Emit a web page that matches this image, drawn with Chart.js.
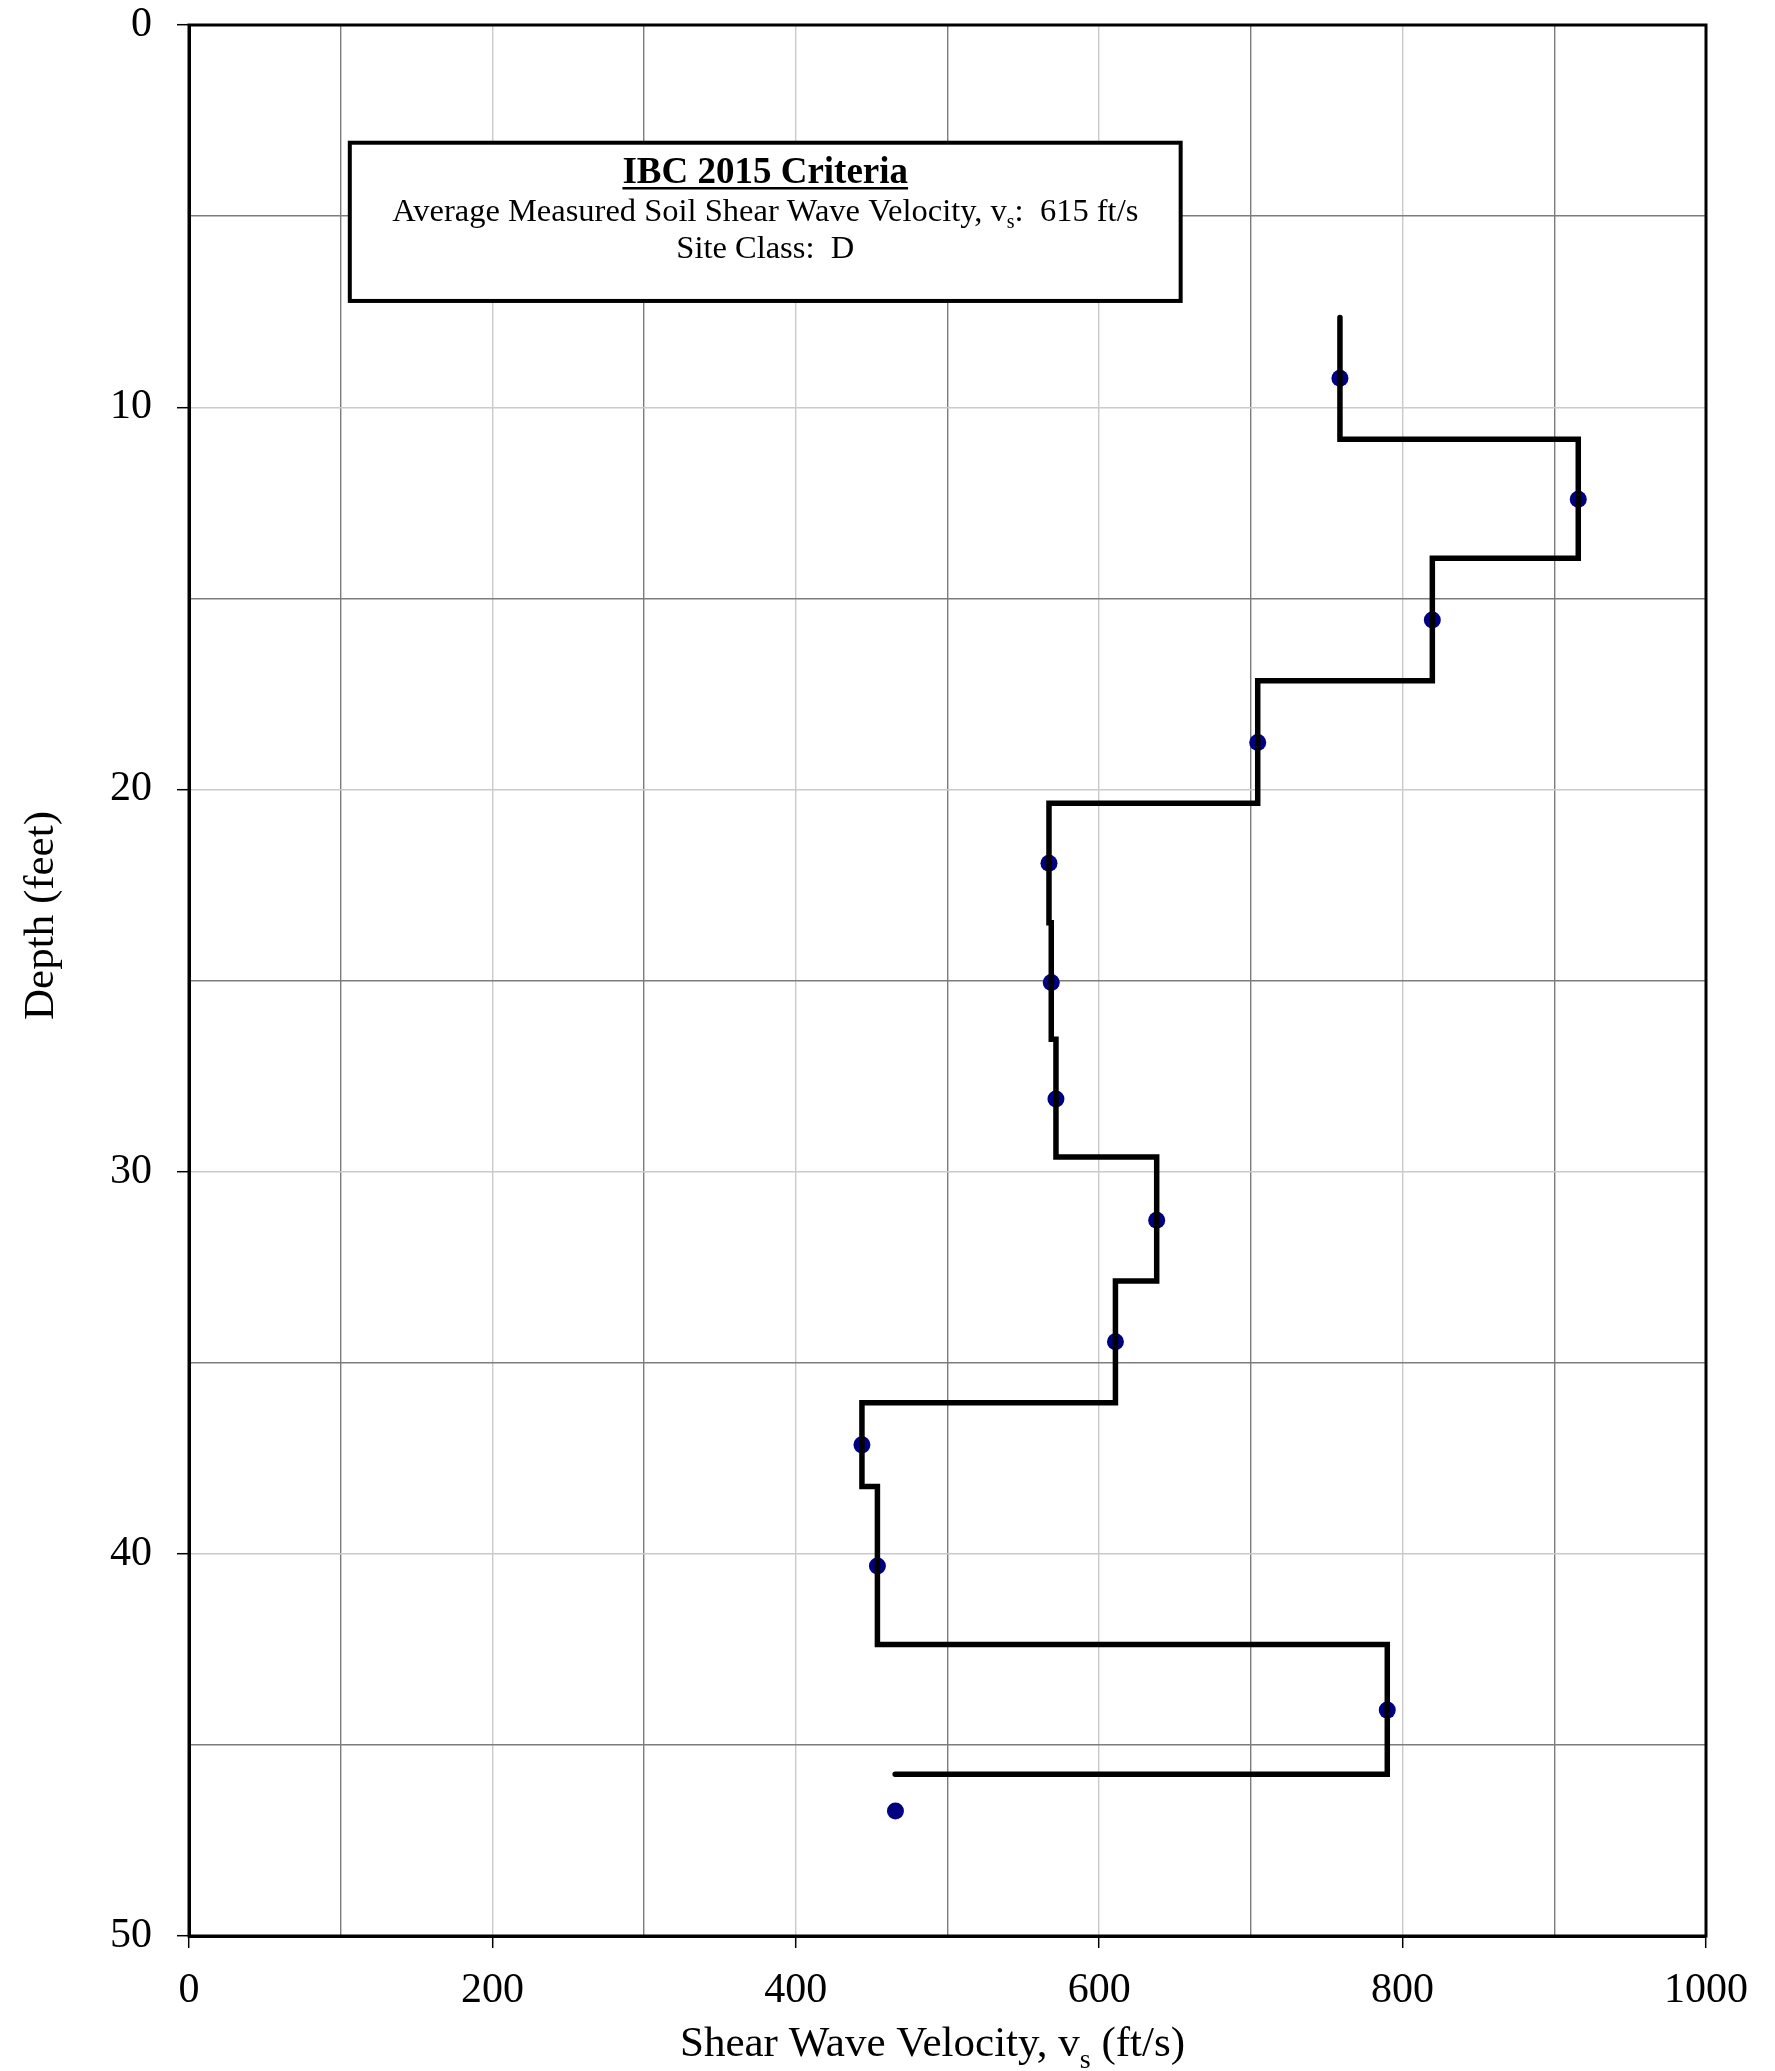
<!DOCTYPE html>
<html lang="en">
<head>
<meta charset="UTF-8" />
<title>Shear Wave Velocity Profile</title>
<script src="https://cdn.jsdelivr.net/npm/chart.js"></script>
<style>
  html, body { margin: 0; padding: 0; background: #fff; }
  #wrap { width: 1775px; height: 2071px; position: relative; }
</style>
</head>
<body>
<div id="wrap"><canvas id="vsChart"></canvas></div>
<script>
// ======================================================
// Data (depth in feet, velocity in ft/s)
// ======================================================
const layerTops = [7.65, 10.84, 13.95, 17.16, 20.36, 23.49, 26.54, 29.62, 32.86, 36.05, 38.24, 42.37, 45.77];
const layerVs = [758.7, 915.8, 819.6, 704.5, 566.9, 568.4, 571.5, 637.9, 610.7, 443.6, 453.8, 789.9, 465.5];
const pointDepths = [9.24, 12.41, 15.57, 18.77, 21.93, 25.05, 28.1, 31.27, 34.45, 37.15, 40.32, 44.09, 46.73];
const pointVs = [758.7, 915.8, 819.6, 704.5, 566.9, 568.4, 571.5, 637.9, 610.7, 443.6, 453.8, 789.9, 465.7];
const xLabels = [0, 200, 400, 600, 800, 1000];
const yLabels = [0, 10, 20, 30, 40, 50];
const avgVs = 615;
const siteClass = "D";

// step outline: each layer drawn down to the top of the next one
const stepPts = [];
layerVs.forEach((v, i) => {
  stepPts.push({ x: v, y: layerTops[i] });
  if (i + 1 < layerTops.length) stepPts.push({ x: v, y: layerTops[i + 1] });
});
const dots = pointVs.map((v, i) => ({ x: v, y: pointDepths[i] }));

const SERIF = '"Liberation Serif", "Times New Roman", serif';
const GRID_DARK = "#7c7c7c";
const GRID_LIGHT = "#cacaca";

// draws a line of text made of runs (for the v_s subscripts), centred on cx
function drawRuns(ctx, runs, cx, baseline) {
  let total = 0;
  runs.forEach((r) => {
    ctx.font = `${r.bold ? "bold " : ""}${r.size}px ${SERIF}`;
    r.w = ctx.measureText(r.t).width;
    total += r.w;
  });
  let x = cx - total / 2;
  ctx.textAlign = "left";
  ctx.textBaseline = "alphabetic";
  runs.forEach((r) => {
    ctx.font = `${r.bold ? "bold " : ""}${r.size}px ${SERIF}`;
    ctx.fillText(r.t, x, baseline + (r.dy || 0));
    x += r.w;
  });
  return { left: cx - total / 2, right: cx + total / 2 };
}

const decorPlugin = {
  id: "decor",
  afterDraw(chart) {
    const { ctx, chartArea: a, scales } = chart;
    const sx = scales.x, sy = scales.y;
    ctx.save();
    ctx.fillStyle = "#000";

    // plot frame
    ctx.strokeStyle = "#000";
    ctx.lineWidth = 3;
    ctx.strokeRect(a.left, a.top, a.right - a.left, a.bottom - a.top);

    // criteria box
    const bl = sx.getPixelForValue(106), br = sx.getPixelForValue(653.7);
    const bt = sy.getPixelForValue(3.08), bb = sy.getPixelForValue(7.22);
    ctx.fillStyle = "#fff";
    ctx.fillRect(bl, bt, br - bl, bb - bt);
    ctx.lineWidth = 4;
    ctx.strokeRect(bl, bt, br - bl, bb - bt);
    ctx.fillStyle = "#000";
    const cx = (bl + br) / 2;
    const head = drawRuns(ctx, [{ t: "IBC 2015 Criteria", size: 37, bold: true }], cx, bt + 40.5);
    ctx.lineWidth = 2.5;
    ctx.beginPath();
    ctx.moveTo(head.left, bt + 45.5);
    ctx.lineTo(head.right, bt + 45.5);
    ctx.stroke();
    drawRuns(ctx, [
      { t: "Average Measured Soil Shear Wave Velocity, v", size: 32.5 },
      { t: "s", size: 20, dy: 7 },
      { t: `:  ${avgVs} ft/s`, size: 32.5 },
    ], cx, bt + 78.5);
    drawRuns(ctx, [{ t: `Site Class:  ${siteClass}`, size: 32.5 }], cx, bt + 115);

    // axis titles
    drawRuns(ctx, [
      { t: "Shear Wave Velocity, v", size: 43 },
      { t: "s", size: 28, dy: 12 },
      { t: " (ft/s)", size: 43 },
    ], (a.left + a.right) / 2 - 15, a.bottom + 120);

    ctx.translate(53, (a.top + a.bottom) / 2 - 65);
    ctx.rotate(-Math.PI / 2);
    drawRuns(ctx, [{ t: "Depth (feet)", size: 43 }], 0, 0);
    ctx.restore();
  },
};

new Chart(document.getElementById("vsChart"), {
  type: "scatter",
  data: {
    datasets: [
      {
        label: "Layer velocity",
        data: stepPts,
        showLine: true,
        borderColor: "#000",
        borderWidth: 5.5,
        borderJoinStyle: "miter",
        borderCapStyle: "round",
        pointRadius: 0,
        tension: 0,
      },
      {
        label: "Measured",
        data: dots,
        showLine: false,
        pointRadius: 8.5,
        pointBackgroundColor: "#000080",
        pointBorderWidth: 0,
      },
    ],
  },
  options: {
    responsive: true,
    maintainAspectRatio: false,
    animation: false,
    layout: { padding: { top: 25, right: 69, left: 0, bottom: 0 } },
    plugins: { legend: { display: false }, tooltip: { enabled: false } },
    scales: {
      x: {
        type: "linear",
        position: "bottom",
        min: 0,
        max: 1000,
        afterFit: (s) => {
          s.height = 135;
          s.paddingLeft = 0;
          s.paddingRight = 0;
        },
        ticks: {
          stepSize: 100,
          autoSkip: false,
          maxRotation: 0,
          padding: 22,
          color: "#000",
          font: { family: SERIF, size: 42, lineHeight: 1 },
          callback: (v) => (xLabels.includes(v) ? v : ""),
        },
        grid: {
          color: (c) => (c.tick && c.tick.value % 200 === 100 ? GRID_DARK : GRID_LIGHT),
          lineWidth: 1.4,
          tickLength: 12,
          tickWidth: 1.5,
          tickColor: (c) => (c.tick && xLabels.includes(c.tick.value) ? "#000" : "rgba(0,0,0,0)"),
        },
        border: { display: true, color: "#000", width: 3 },
      },
      y: {
        type: "linear",
        reverse: true,
        min: 0,
        max: 50,
        afterFit: (s) => {
          s.width = 189;
          s.paddingTop = 0;
          s.paddingBottom = 0;
        },
        ticks: {
          stepSize: 5,
          autoSkip: false,
          padding: 25,
          color: "#000",
          font: { family: SERIF, size: 42, lineHeight: 1 },
          callback: (v) => (yLabels.includes(v) ? v : ""),
        },
        grid: {
          color: (c) => (c.tick && c.tick.value % 10 === 5 ? GRID_DARK : GRID_LIGHT),
          lineWidth: 1.4,
          tickLength: 12,
          tickWidth: 1.5,
          tickColor: (c) => (c.tick && yLabels.includes(c.tick.value) ? "#000" : "rgba(0,0,0,0)"),
        },
        border: { display: true, color: "#000", width: 3 },
      },
    },
  },
  plugins: [decorPlugin],
});
</script>
</body>
</html>
